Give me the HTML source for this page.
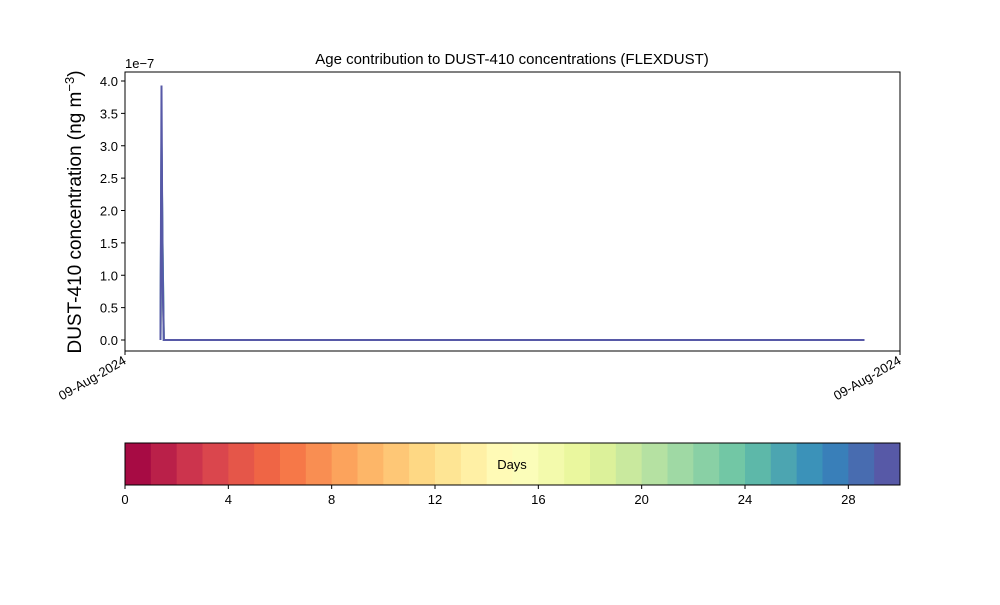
<!DOCTYPE html>
<html><head><meta charset="utf-8"><style>
body{margin:0;background:#fff;font-family:"Liberation Sans",sans-serif}
svg text{font-family:"Liberation Sans",sans-serif;fill:#000}
</style></head><body>
<svg width="1000" height="600" xmlns="http://www.w3.org/2000/svg" id="svg">
<text x="512" y="64" font-size="15" text-anchor="middle">Age contribution to DUST-410 concentrations (FLEXDUST)</text>
<text transform="translate(81,212) rotate(-90)" font-size="19" text-anchor="middle">DUST-410 concentration (ng m<tspan dy="-7" font-size="13">−3</tspan><tspan dy="7">)</tspan></text>
<text x="125" y="68" font-size="13">1e−7</text>
<g id="plot"></g>
<rect x="125" y="72" width="775" height="279" fill="none" stroke="#000" stroke-width="1"/>
<g id="cbar"></g>
<text x="512" y="469" font-size="13" text-anchor="middle">Days</text>
</svg>
<script>
const yTicks=[0,0.5,1.0,1.5,2.0,2.5,3.0,3.5,4.0];
const xTickLabels=["09-Aug-2024","09-Aug-2024"];
const times=[1.1,1.13,1.16,1.2,22.9];
const seriesDays=[13,15,24,28,29];
const seriesVals=[
 [0,2.5,1.0,0,0],
 [0,2.0,1.5,0,0],
 [0,3.05,1.55,0,0],
 [0,3.0,1.5,0,0],
 [0,3.93,1.0,0,0]
];
const cbTicks=[0,4,8,12,16,20,24,28];
const nBins=30;
const NS="http://www.w3.org/2000/svg";
const X0=125,X1=900,Y0=340,Yk=(340-81)/4;
const xs=t=>X0+(t/24)*(X1-X0);
const ys=v=>Y0-v*Yk;
const spec=["#9e0142","#d53e4f","#f46d43","#fdae61","#fee08b","#ffffbf","#e6f598","#abdda4","#66c2a5","#3288bd","#5e4fa2"];
function hex(h){return [1,3,5].map(i=>parseInt(h.substr(i,2),16));}
function cmap(f){const p=f*10,i=Math.min(9,Math.floor(p)),r=p-i,a=hex(spec[i]),b=hex(spec[i+1]);return "rgb("+a.map((v,k)=>Math.round(v+(b[k]-v)*r)).join(",")+")";}
const svg=document.getElementById("svg"),plot=document.getElementById("plot"),cb=document.getElementById("cbar");
function mk(t,a,p){const e=document.createElementNS(NS,t);for(const k in a)e.setAttribute(k,a[k]);(p||svg).appendChild(e);return e;}
yTicks.forEach(v=>{
 const l=mk("line",{x1:X0-4,x2:X0,y1:ys(v),y2:ys(v),stroke:"#000"},plot);
 
 
 const t=mk("text",{x:X0-7,y:ys(v)+5,"font-size":13,"text-anchor":"end"},plot);
 
 
 t.textContent=v.toFixed(1);
});
[0,24].forEach((tv,i)=>{
 const x=xs(tv);
 const l=mk("line",{x1:x,x2:x,y1:351,y2:355,stroke:"#000"},plot);
 
 
 const t=mk("text",{x:x+2,y:363,"font-size":13,"text-anchor":"end",transform:"rotate(-30 "+(x+2)+" 363)"},plot);
 
 
 t.textContent=xTickLabels[i];
});
seriesVals.forEach((vals,si)=>{
 const d=vals.map((v,i)=>(i?"L":"M")+xs(times[i]).toFixed(1)+","+ys(v).toFixed(1)).join("");
 const p=mk("path",{d:d,fill:"none",stroke:cmap((seriesDays[si]+0.5)/30),"stroke-width":2},plot);
 
 
});
const CX0=125,CX1=900,CY=443,CH=42,bw=(CX1-CX0)/nBins;
for(let i=0;i<nBins;i++){
 const r=mk("rect",{x:CX0+i*bw,y:CY,width:bw+0.5,height:CH,fill:cmap((i+0.5)/nBins)},cb);
 
 
}
const fr=mk("rect",{x:CX0,y:CY,width:CX1-CX0,height:CH,fill:"none",stroke:"#000"},cb);


cbTicks.forEach(v=>{
 const x=CX0+v*bw;
 const l=mk("line",{x1:x,x2:x,y1:CY+CH,y2:CY+CH+4,stroke:"#000"},cb);
 
 
 const t=mk("text",{x:x,y:CY+CH+19,"font-size":13,"text-anchor":"middle"},cb);
 
 
 t.textContent=v;
});
</script>
</body></html>
